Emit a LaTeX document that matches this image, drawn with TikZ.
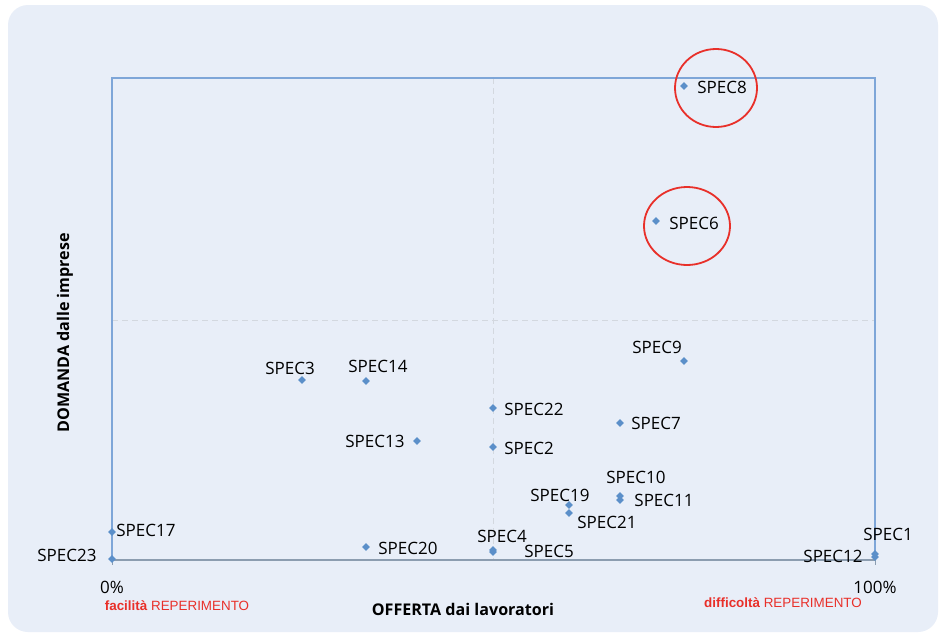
\documentclass[tikz,border=0pt]{standalone}
\usepackage{fontspec}
\setmainfont{Open Sans}
\newfontfamily\arialf{Liberation Sans}
\usetikzlibrary{shapes.geometric}
\definecolor{bgc}{HTML}{E8EEF8}
\definecolor{framec}{HTML}{7EA6D8}
\definecolor{axisc}{HTML}{8C9DB0}
\definecolor{midc}{HTML}{D3D8DF}
\definecolor{ptc}{HTML}{5B8FC9}
\definecolor{redc}{HTML}{E8302A}
\tikzset{
  pt/.style={diamond,fill=ptc,inner sep=0pt,minimum width=8pt,minimum height=8pt},
  lbl/.style={font=\fontsize{17}{19}\selectfont,text=black,inner sep=0pt},
  redlbl/.style={font=\arialf\fontsize{13.4}{15}\selectfont,text=redc,inner sep=0pt},
  axlbl/.style={font=\bfseries\fontsize{16.1}{18}\selectfont,inner sep=0pt},
  ring/.style={draw=redc,line width=1.8pt,ellipse}
}
\begin{document}
\begin{tikzpicture}[x=1pt,y=-1pt]
\useasboundingbox (0,0) rectangle (939,635);
\fill[white] (0,0) rectangle (939,635);
\fill[bgc,rounded corners=20pt] (8,5) rectangle (938,632);
% mid lines
\draw[midc,line width=1pt,dash pattern=on 6pt off 4pt] (493,78) -- (493,560);
\draw[midc,line width=1pt,dash pattern=on 6pt off 4pt] (112,320) -- (875,320);
% frame
\draw[framec,line width=1.3pt] (112,560) -- (112,78) -- (875,78) -- (875,560);
\draw[axisc,line width=1.6pt] (112,560) -- (875,560);
\draw[axisc,line width=1pt] (112,560) -- (112,565) (875,560) -- (875,565);
% points
\node[pt] (p8) at (684,86) {};
\node[pt] (p6) at (656,221) {};
\node[pt] (p9) at (684,361) {};
\node[pt] (p3) at (302,380) {};
\node[pt] (p14) at (366,381) {};
\node[pt] (p22) at (493,408) {};
\node[pt] (p7) at (620,423) {};
\node[pt] (p13) at (417,441) {};
\node[pt] (p2) at (493,447) {};
\node[pt] (p10) at (620,496) {};
\node[pt] (p11) at (620,500) {};
\node[pt] (p19) at (569,505) {};
\node[pt] (p21) at (569,513) {};
\node[pt] (p17) at (112,532) {};
\node[pt] (p20) at (366,547) {};
\node[pt] (p4) at (493,550) {};
\node[pt] (p5) at (493,552) {};
\node[pt] (p1) at (875,554) {};
\node[pt] (p12) at (875,557) {};
\node[pt] (p23) at (112,559) {};
% labels
\node[lbl] (l8) at (722,87) {SPEC8};
\node[lbl] (l6) at (694,223) {SPEC6};
\node[lbl] (l9) at (657,347) {SPEC9};
\node[lbl] (l3) at (290,368) {SPEC3};
\node[lbl] (l14) at (378,366) {SPEC14};
\node[lbl] (l22) at (534,409) {SPEC22};
\node[lbl] (l7) at (656,423) {SPEC7};
\node[lbl] (l13) at (375,441) {SPEC13};
\node[lbl] (l2) at (529,448) {SPEC2};
\node[lbl] (l10) at (636,477) {SPEC10};
\node[lbl] (l11) at (664,500) {SPEC11};
\node[lbl] (l19) at (560,495) {SPEC19};
\node[lbl] (l21) at (607,522) {SPEC21};
\node[lbl] (l17) at (146,530) {SPEC17};
\node[lbl] (l20) at (408,548) {SPEC20};
\node[lbl] (l4) at (502,536) {SPEC4};
\node[lbl] (l5) at (549,551) {SPEC5};
\node[lbl] (l1) at (888,534) {SPEC1};
\node[lbl] (l12) at (833,556) {SPEC12};
\node[lbl] (l23) at (67,555) {SPEC23};
% axis labels
\node[lbl] (x0) at (112,587) {0\%};
\node[lbl] (x100) at (875,587) {100\%};
\node[redlbl] (fac) at (177,606) {\textbf{facilità} REPERIMENTO};
\node[redlbl] (dif) at (783,603) {\textbf{difficoltà} REPERIMENTO};
\node[axlbl] (xt) at (463,609) {OFFERTA dai lavoratori};
\node[axlbl,rotate=90] (yt) at (65,333) {DOMANDA dalle imprese};
% rings
\node[ring,minimum width=82pt,minimum height=78pt] (r8) at (716,88) {};
\node[ring,minimum width=86pt,minimum height=78pt] (r6) at (687,226) {};
\end{tikzpicture}
\end{document}
